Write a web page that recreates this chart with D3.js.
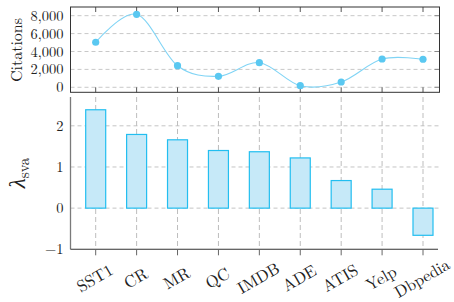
<!DOCTYPE html>
<html><head><meta charset="utf-8">
<script src="https://cdn.jsdelivr.net/npm/d3@7"></script>
<style>
html,body{margin:0;padding:0;background:#fff;}
svg{display:block;font-family:"Latin Modern Roman","Liberation Serif","Times New Roman",serif;}
</style></head>
<body><svg id="c" width="454" height="302"></svg>
<script>
const categories = ["SST1","CR","MR","QC","IMDB","ADE","ATIS","Yelp","Dbpedia"];
const citations = [5030, 8150, 2410, 1230, 2750, 180, 590, 3160, 3130];
const lambdaSva = [2.39, 1.79, 1.66, 1.40, 1.37, 1.22, 0.67, 0.46, -0.66];
const citationTicks = [0, 2000, 4000, 6000, 8000];
const lambdaTicks = [-1, 0, 1, 2];

const svg = d3.select("#c");
const L = 70.5, R = 439.5;
const x = d3.scalePoint().domain(categories).range([95.7, 423]);

// ---------- top panel ----------
const tTop = 7, tBot = 92.3;
const yTop = d3.scaleLinear().domain([-560, 8970]).range([tBot, tTop]);
const fmt = d3.format(",");
const gT = svg.append("g");
gT.selectAll("line.g").data(citationTicks).join("line")
  .attr("x1", L).attr("x2", R).attr("y1", d => yTop(d)).attr("y2", d => yTop(d))
  .attr("stroke", "#c8c8c8").attr("stroke-width", 1).attr("stroke-dasharray", "4,3");
gT.selectAll("line.rt").data(citationTicks).join("line")
  .attr("x1", R - 5).attr("x2", R).attr("y1", d => yTop(d)).attr("y2", d => yTop(d))
  .attr("stroke", "#888").attr("stroke-width", 1);
categories.forEach(c => {
  gT.append("line").attr("x1", x(c)).attr("x2", x(c)).attr("y1", tTop).attr("y2", tTop + 5)
    .attr("stroke", "#555").attr("stroke-width", 1);
  gT.append("line").attr("x1", x(c)).attr("x2", x(c)).attr("y1", tBot - 5).attr("y2", tBot)
    .attr("stroke", "#555").attr("stroke-width", 1);
});
gT.append("rect").attr("x", L).attr("y", tTop).attr("width", R - L).attr("height", tBot - tTop)
  .attr("fill", "none").attr("stroke", "#333").attr("stroke-width", 1);
gT.selectAll("text.yl").data(citationTicks).join("text")
  .attr("x", 63.5).attr("y", d => yTop(d)).attr("dy", "0.35em")
  .attr("text-anchor", "end").attr("font-size", 14.5).attr("fill", "#222")
  .text(d => fmt(d));
gT.append("text").attr("transform", "translate(16.5,50) rotate(-90)")
  .attr("text-anchor", "middle").attr("dy", "0.35em").attr("font-size", 16).attr("fill", "#222")
  .text("Citations");
const line = d3.line().x((d, i) => x(categories[i])).y(d => yTop(d)).curve(d3.curveCardinal.tension(0));
gT.append("path").datum(citations).attr("d", line).attr("fill", "none")
  .attr("stroke", "#80d4f5").attr("stroke-width", 1.1);
gT.selectAll("circle").data(citations).join("circle")
  .attr("cx", (d, i) => x(categories[i])).attr("cy", d => yTop(d)).attr("r", 3.6)
  .attr("fill", "#5ac8f1");

// ---------- bottom panel ----------
const bTop = 97, bBot = 249.3;
const yB = d3.scaleLinear().domain([-1, 2.7]).range([bBot, bTop]);
const gB = svg.append("g");
gB.selectAll("line.hg").data(lambdaTicks.filter(d => d > -1)).join("line")
  .attr("x1", L).attr("x2", R - 1).attr("y1", d => yB(d)).attr("y2", d => yB(d))
  .attr("stroke", "#c4c4c4").attr("stroke-width", 1).attr("stroke-dasharray", "4,3");
gB.selectAll("line.vg").data(categories).join("line")
  .attr("x1", d => x(d)).attr("x2", d => x(d)).attr("y1", bTop).attr("y2", bBot)
  .attr("stroke", "#bdbdbd").attr("stroke-width", 1).attr("stroke-dasharray", "5,3");
const bw = 20;
gB.selectAll("rect.bar").data(lambdaSva).join("rect")
  .attr("x", (d, i) => x(categories[i]) - bw / 2).attr("width", bw)
  .attr("y", d => yB(Math.max(0, d))).attr("height", d => Math.abs(yB(d) - yB(0)))
  .attr("fill", "#c6e9f8").attr("stroke", "#22bef0").attr("stroke-width", 1.2);
gB.append("line").attr("x1", L).attr("x2", L).attr("y1", bTop).attr("y2", bBot)
  .attr("stroke", "#7a7a7a").attr("stroke-width", 1.3);
gB.append("line").attr("x1", L).attr("x2", R - 1.5).attr("y1", bBot).attr("y2", bBot)
  .attr("stroke", "#333").attr("stroke-width", 1.1);
gB.selectAll("line.xt").data(categories).join("line")
  .attr("x1", d => x(d)).attr("x2", d => x(d)).attr("y1", bBot).attr("y2", bBot + 6)
  .attr("stroke", "#666").attr("stroke-width", 1);
gB.selectAll("text.yl").data(lambdaTicks).join("text")
  .attr("x", 63.5).attr("y", d => yB(d)).attr("dy", "0.35em")
  .attr("text-anchor", "end").attr("font-size", 14.5).attr("fill", "#222")
  .text(d => d < 0 ? "\u2212" + Math.abs(d) : d);
gB.selectAll("text.xl").data(categories).join("text")
  .attr("transform", d => `translate(${x(d) - 1},${278}) rotate(-30)`)
  .attr("text-anchor", "middle").attr("dy", "0.35em").attr("font-size", 16.5).attr("fill", "#222")
  .text(d => d);
const yl = gB.append("text").attr("transform", "translate(25,173) rotate(-90)")
  .attr("text-anchor", "middle").attr("fill", "#222");
yl.append("tspan").attr("font-size", 23).attr("font-style", "italic").text("\u03bb");
yl.append("tspan").attr("font-size", 15).attr("dy", 4).text("sva");
</script></body></html>
